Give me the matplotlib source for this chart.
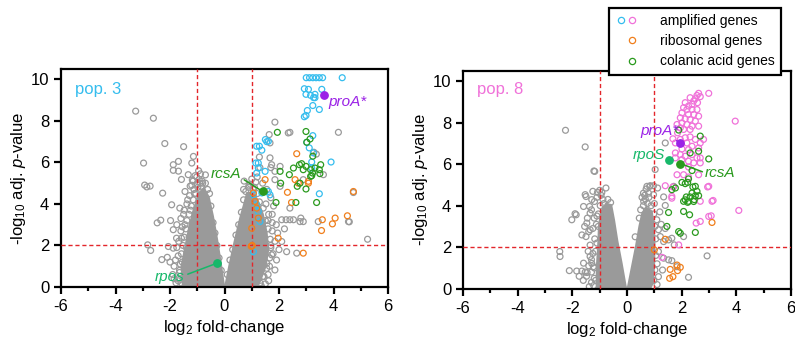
import matplotlib.pyplot as plt
from matplotlib.lines import Line2D
from matplotlib.legend_handler import HandlerTuple

plt.rcParams['font.family'] = ['Liberation Sans', 'DejaVu Sans']
plt.rcParams['mathtext.fontset'] = 'custom'
plt.rcParams['mathtext.rm'] = 'Liberation Sans'
plt.rcParams['mathtext.it'] = 'Liberation Sans:italic'
plt.rcParams['axes.unicode_minus'] = False

GRAY = '#9a9a9a'
CYAN = '#35bdee'
PINK = '#f072d9'
ORANGE = '#f07f1c'
GREEN = '#2a9a1e'
PURPLE = '#9b22e6'
SPRING = '#17b86a'
RED = '#e3262b'

x_ticks = [-6, -4, -2, 0, 2, 4, 6]
y_ticks = [0, 2, 4, 6, 8, 10]
fc_cutoff = 1
p_cutoff = 2

# pop. 3 -- outline of the solid grey core of the volcano
pop3_core_left_x = [-1.5, -1.55, -1.4, -1.25, -1.08, -0.92, -0.76, -0.6, -0.45, -0.3, -0.17, -0.06, -0.03]
pop3_core_left_y = [0.0, 1.0, 2.0, 3.0, 3.8, 4.5, 4.7, 4.3, 3.4, 2.3, 1.2, 0.2, 0.0]
pop3_core_right_x = [0.05, 0.2, 0.4, 0.6, 0.75, 0.85, 1.0, 1.18, 1.38, 1.52, 1.58, 1.48, 1.28, 1.12]
pop3_core_right_y = [0.0, 1.0, 2.2, 3.3, 4.0, 4.5, 4.5, 4.2, 3.5, 2.6, 1.8, 1.0, 0.3, 0.0]

pop3_gray_x = [-3.26, -2.61, -2.19, -1.50, -2.97, -2.93, -2.85, -2.73, -2.27, -2.47, -2.34, -2.82, -2.71,
               -2.30, -2.10, -1.98, -1.88, -1.88, -1.69, -1.88, -1.69, -1.58, -1.33, -1.14, -1.20, -1.26,
               -1.08, -0.93, -2.06, -1.88, -1.58, -1.76, -1.64, -1.94, -1.45, -1.35, -1.50, -1.75, -1.60,
               -2.00, -1.85, -1.70, -1.55, -1.90, -1.70, -1.60, -1.45, -1.25, -1.10, -0.95, -0.80, -1.30,
               -1.40, -1.20, -0.70, -1.65, -1.55, -1.15, -1.0, -0.85,
               -1.70, -1.65, -1.62, -1.58, -1.52, -1.48, -1.42, -1.38, -1.30, -1.22, -1.15, -1.05, -0.98,
               -0.90, -0.82, -0.70, -0.62, -0.55, -1.75, -1.68, -1.60, -1.48, -1.38, -1.28, -1.12, -1.80,
               -1.78, -1.85, -1.55, -1.02, -0.88, -1.18, -0.50, -0.42, -0.35, -0.28, -0.20, -0.12,
               1.85, 1.64, 2.34, 2.40, 4.18, 1.67, 1.28, 1.67, 3.37, 3.28, 1.73, 2.04, 1.85, 1.85, 2.04,
               1.30, 1.70, 3.63, 2.89, 2.40, 2.10, 2.26, 2.40, 2.53, 2.77, 2.89, 3.44, 2.80, 4.55, 4.58,
               4.73, 5.25, 2.28, 2.65, 1.85, 2.10, 1.73, 1.91, 1.55, 1.20, 1.40, 1.55, 1.70, 1.80, 1.75,
               1.90, 1.75, 1.85, 1.70, 1.65, 1.40, 1.60, 2.00, 1.95, 2.20, 1.60, 0.90, 0.70, 1.00, 1.10,
               1.62, 1.50, 1.35, 1.20,
               0.10, 0.20, 0.30, 0.42, 0.52, 0.62, 0.70, 0.78, 0.88, 0.95, 1.05, 1.20, 1.28, 1.42, 1.50,
               1.60, 1.68, 1.70, 1.66, 1.55, 1.45, 1.30, 1.75, 1.62, 1.52, 1.78, 1.35, 0.72, 1.15]
pop3_gray_y = [8.47, 8.13, 6.91, 6.76, 5.97, 4.91, 4.82, 4.86, 4.52, 3.09, 3.22, 2.03, 1.76,
               1.32, 1.43, 3.20, 2.76, 5.89, 6.05, 5.62, 5.58, 5.18, 5.41, 6.29, 5.97, 4.86,
               5.36, 5.18, 1.95, 1.87, 2.35, 2.35, 3.80, 3.96, 4.60, 4.20, 3.50, 3.00, 2.70,
               1.20, 1.00, 1.50, 1.20, 0.60, 0.40, 0.20, 3.00, 3.70, 4.50, 5.60, 5.00, 2.40,
               1.90, 4.90, 5.40, 0.80, 2.90, 5.10, 4.95, 4.85,
               0.30, 0.70, 1.10, 1.60, 2.00, 2.40, 2.80, 3.20, 3.50, 3.90, 4.20, 4.50, 4.80,
               5.00, 5.10, 5.00, 4.70, 4.50, 1.90, 2.20, 3.30, 3.70, 4.00, 4.40, 4.70, 1.30,
               0.20, 0.40, 0.10, 5.30, 5.45, 5.15, 3.90, 3.10, 2.60, 2.00, 1.40, 0.80,
               7.94, 7.34, 7.42, 7.45, 7.45, 6.94, 6.26, 6.22, 6.40, 6.49, 5.89, 5.81, 5.57, 5.17, 4.85,
               5.75, 5.75, 5.41, 5.17, 3.80, 3.24, 3.24, 3.24, 3.24, 3.15, 3.15, 3.15, 3.32, 3.15, 3.14,
               4.55, 2.30, 1.70, 1.63, 0.82, 2.19, 1.55, 1.30, 1.14, 5.30, 5.00, 4.70, 4.30, 3.90, 3.50,
               3.00, 2.70, 2.20, 2.00, 1.00, 0.50, 0.60, 1.80, 2.60, 2.80, 3.20, 4.90, 4.70, 5.20, 4.80,
               0.30, 0.15, 0.05, 0.90,
               0.60, 1.30, 1.80, 2.50, 3.00, 3.60, 4.20, 4.60, 4.80, 4.95, 4.70, 4.50, 4.10, 3.80, 3.20,
               2.80, 2.30, 1.90, 1.40, 0.90, 0.50, 0.20, 3.10, 3.50, 4.00, 1.60, 0.80, 5.10, 5.05]

pop3_amp_x = [3.00, 3.12, 3.24, 3.36, 3.48, 3.60, 4.32, 2.93, 3.08, 3.57, 2.99, 3.16, 3.32, 3.32, 3.27,
              3.24, 3.48, 3.04, 2.99, 2.93, 3.24, 1.50, 1.55, 1.28, 1.37, 1.18, 1.61, 3.02, 3.11, 3.26,
              1.24, 1.24, 1.18, 1.49, 1.61, 1.67, 1.37, 1.06, 1.18, 1.24, 1.30, 1.06, 3.20, 3.20, 3.91,
              3.48, 1.15]
pop3_amp_y = [10.08, 10.08, 10.08, 10.08, 10.08, 10.08, 10.08, 9.55, 9.52, 9.52, 9.28, 9.23, 9.28, 9.12, 9.12,
              8.74, 8.55, 8.50, 8.26, 8.20, 7.29, 7.10, 7.00, 6.78, 6.59, 6.78, 7.02, 6.97, 6.70, 6.46,
              5.97, 5.73, 5.49, 5.57, 4.60, 4.44, 4.53, 4.44, 3.96, 3.64, 3.15, 1.70, 6.02, 5.73, 6.02,
              4.49, 5.97]

pop3_ribo_x = [2.65, 1.49, 2.31, 2.46, 2.59, 2.71, 3.08, 1.06, 1.12, 1.18, 1.24, 1.00, 1.00, 1.02, 0.98,
               1.97, 2.89, 3.59, 4.06, 3.56, 3.96, 4.51, 4.73, 3.08]
pop3_ribo_y = [6.42, 5.17, 4.56, 4.07, 5.17, 5.00, 5.00, 4.53, 4.12, 3.80, 3.32, 2.83, 1.98, 2.00, 1.96,
               2.35, 1.63, 3.24, 3.32, 2.72, 3.04, 3.43, 4.60, 5.09]

pop3_colanic_x = [1.94, 2.99, 3.14, 3.24, 2.04, 2.38, 2.53, 2.75, 2.83, 2.99, 3.16, 3.32, 3.48, 3.53,
                  3.23, 3.16, 2.77, 2.67, 2.99, 1.89, 2.62, 3.38, 2.06, 3.02, 2.89, 3.20, 3.50]
pop3_colanic_y = [7.45, 7.49, 7.13, 6.30, 5.57, 5.41, 5.73, 5.89, 5.94, 5.81, 5.65, 5.73, 5.65, 5.89,
                  5.49, 5.33, 5.00, 4.85, 4.72, 4.07, 4.07, 4.07, 5.00, 6.97, 5.65, 5.36, 5.46]

# pop. 8
pop8_core_left_x = [-1.08, -1.08, -1.03, -1.0, -0.92, -0.76, -0.6, -0.5, -0.38, -0.22, -0.08, -0.05]
pop8_core_left_y = [0.0, 1.0, 2.0, 3.0, 3.7, 4.05, 4.0, 3.3, 2.3, 1.2, 0.15, 0.0]
pop8_core_right_x = [0.05, 0.2, 0.35, 0.48, 0.58, 0.72, 0.88, 0.96, 0.98, 0.96, 0.92, 0.82]
pop8_core_right_y = [0.0, 1.0, 2.0, 3.0, 3.6, 3.85, 3.7, 3.0, 2.0, 1.0, 0.3, 0.0]

pop8_gray_x = [-2.25, -1.53, -1.21, -1.18, -1.53, -1.50, -1.25, -1.29, -1.19, -0.77, -1.00, -0.92, -1.08,
               -1.59, -1.37, -1.90, -1.86, -2.02, -1.35, -1.20, -1.47, -1.65, -1.50, -1.35, -1.40, -1.25,
               -2.46, -2.45, -2.11, -1.84, -1.65, -1.53, -1.46, -1.59, -1.30, -1.35, -1.29, -1.23, -1.10,
               -1.15, -1.20, -1.30, -1.05, -1.10, -0.85, -1.75,
               -1.15, -1.20, -1.25, -1.18, -1.12, -1.05, -0.98, -0.88, -0.70, -0.60, -1.35, -1.42, -1.30,
               -1.40, -1.48, -1.60, -1.10, -0.95, -1.45, -1.55, -1.30, -1.22, -1.38,
               0.73, 0.83, 0.97, 1.12, 0.67, 0.61, 0.97, 1.34, 1.40, 1.03, 1.09, 1.15, 1.22, 1.34, 1.52,
               1.64, 1.73, 1.15, 1.34, 1.52, 1.83, 2.25, 2.93, 1.15, 1.64, 2.07, 1.20, 1.25, 1.40, 1.10,
               1.30, 0.60, 0.80, 1.00, 1.40, 0.85, 0.79, 1.71,
               0.50, 0.60, 0.75, 0.88, 0.98, 1.02, 1.05, 1.05, 1.02, 0.98, 0.65, 0.70, 0.55, 0.45, 0.30, 1.10]
pop8_gray_y = [7.63, 6.83, 5.67, 5.65, 4.53, 4.44, 4.69, 4.29, 4.20, 4.85, 4.74, 4.64, 4.64,
               3.96, 3.96, 3.61, 3.56, 3.32, 3.64, 3.40, 3.16, 2.59, 2.51, 2.84, 2.75, 2.90,
               1.79, 1.55, 0.87, 0.85, 0.85, 0.80, 0.78, 1.23, 1.40, 1.55, 1.22, 1.06, 2.20,
               1.80, 0.50, 0.30, 3.00, 3.50, 4.10, 0.60,
               0.40, 1.00, 1.70, 2.40, 3.10, 3.60, 4.00, 4.30, 4.30, 4.15, 2.10, 1.80, 0.80,
               1.10, 0.60, 0.40, 4.40, 4.50, 3.40, 3.00, 3.80, 0.15, 0.10,
               4.93, 4.93, 4.96, 4.85, 4.32, 4.21, 4.53, 4.42, 4.01, 5.74, 3.32, 2.84, 2.51, 2.27, 2.35,
               2.43, 2.11, 1.79, 1.47, 1.39, 1.06, 0.55, 1.58, 0.58, 1.35, 2.51, 3.70, 3.10, 2.90, 1.20,
               0.90, 4.60, 4.40, 4.10, 7.02, 4.96, 4.60, 4.93,
               3.80, 4.00, 4.10, 4.00, 3.60, 3.00, 2.40, 1.60, 0.90, 0.40, 4.50, 4.80, 4.40, 3.40, 2.50, 0.20]

pop8_amp_x = [2.62, 2.56, 2.68, 2.99, 2.50, 2.31, 2.44, 2.58, 2.38, 2.25, 2.13, 2.07, 2.19, 2.38, 2.56,
              2.01, 2.25, 2.44, 2.62, 1.95, 2.13, 2.31, 2.50, 2.01, 1.83, 2.19, 2.38, 2.62, 1.95, 2.07,
              2.31, 1.85, 1.68, 1.77, 1.95, 2.13, 2.31, 2.50, 2.68, 2.80, 2.19, 2.38, 2.62, 2.01, 2.25,
              1.77, 1.95, 2.13, 2.38, 2.56, 2.68, 1.77, 2.01, 2.25, 2.44, 2.68, 2.25, 1.83, 2.07, 2.25,
              2.62, 2.99, 1.68, 1.64, 2.68, 3.11, 3.96, 1.40, 1.64, 2.95, 3.15, 2.99, 3.08, 2.68, 2.53,
              4.09, 1.89, 1.28]
pop8_amp_y = [9.41, 9.31, 9.25, 9.41, 9.15, 9.20, 9.04, 8.96, 8.88, 8.80, 8.96, 8.72, 8.63, 8.63, 8.63,
              8.47, 8.39, 8.39, 8.31, 8.23, 8.18, 8.15, 8.07, 7.99, 7.91, 7.91, 7.83, 7.83, 7.75, 7.67,
              7.67, 7.51, 7.22, 7.02, 7.19, 7.27, 7.31, 7.19, 7.02, 7.19, 7.02, 6.86, 6.78, 6.73, 6.70,
              6.54, 6.46, 6.38, 6.46, 6.30, 6.30, 6.30, 6.22, 6.14, 6.06, 6.06, 5.86, 5.49, 5.49, 5.38,
              5.49, 4.93, 4.90, 4.45, 4.21, 4.21, 8.07, 4.96, 4.36, 4.90, 4.25, 3.48, 3.51, 3.24, 3.16,
              3.77, 2.11, 1.51]

pop8_ribo_x = [1.40, 3.11, 1.00, 1.83, 1.95, 1.85, 1.58, 1.56, 1.68]
pop8_ribo_y = [2.38, 3.19, 1.87, 1.14, 1.03, 0.87, 0.93, 0.50, 0.58]

pop8_colanic_x = [1.89, 2.68, 2.62, 2.31, 2.99, 2.38, 2.25, 2.13, 2.01, 2.50, 2.56, 2.38, 2.31, 2.17,
                  2.25, 2.46, 2.07, 1.77, 1.64, 2.22, 2.41, 2.50, 2.13, 2.22, 2.62, 2.44, 1.52, 2.07,
                  2.29, 1.46, 1.89, 1.95, 2.50]
pop8_colanic_y = [7.64, 7.35, 6.62, 6.54, 6.25, 5.69, 5.29, 5.06, 5.12, 4.93, 4.69, 4.61, 4.42, 4.42,
                  4.21, 4.29, 4.21, 4.85, 4.77, 5.12, 4.90, 4.48, 4.28, 4.16, 4.48, 4.20, 3.67, 3.72,
                  3.56, 3.00, 2.75, 2.67, 2.71]

pop3_genes = ['proA*', 'rcsA', 'rpos']
pop3_gene_x = [3.66, 1.40, -0.29]
pop3_gene_y = [9.23, 4.60, 1.14]
pop8_genes = ['proA*', 'rpoS', 'rcsA']
pop8_gene_x = [1.95, 1.52, 1.95]
pop8_gene_y = [7.02, 6.19, 6.03]


def style_axes(ax):
    ax.set_xlim(-6, 6)
    ax.set_ylim(0, 10.5)
    ax.set_xticks(x_ticks)
    ax.set_xticks([-5, -3, -1, 1, 3, 5], minor=True)
    ax.set_yticks(y_ticks)
    for side in ['left', 'bottom', 'top', 'right']:
        ax.spines[side].set_linewidth(1.6)
    ax.tick_params(which='major', direction='out', length=5, width=1.6, labelsize=12, top=False, right=False)
    ax.tick_params(which='minor', direction='out', length=3, width=1.6, top=False, right=False)
    ax.set_xlabel(r'log$_2$ fold-change', fontsize=12, labelpad=3)
    ax.set_ylabel(r'-log$_{10}$ adj. $\it{p}$-value', fontsize=12, labelpad=2)
    ax.axvline(-fc_cutoff, color=RED, lw=1.0, dashes=(3, 2), zorder=3)
    ax.axvline(fc_cutoff, color=RED, lw=1.0, dashes=(3, 2), zorder=3)
    ax.axhline(p_cutoff, color=RED, lw=1.0, dashes=(3, 2), zorder=3)


def draw_points(ax, core, gray, amp, ribo, colanic, amp_color):
    for cx, cy in core:
        ax.fill(cx, cy, color=GRAY, lw=2.5, zorder=1)
    ax.scatter(gray[0], gray[1], s=18, facecolors='none', edgecolors=GRAY, linewidths=0.9, zorder=2)
    ax.scatter(amp[0], amp[1], s=18, facecolors='none', edgecolors=amp_color, linewidths=0.9, zorder=4)
    ax.scatter(ribo[0], ribo[1], s=18, facecolors='none', edgecolors=ORANGE, linewidths=0.9, zorder=5)
    ax.scatter(colanic[0], colanic[1], s=18, facecolors='none', edgecolors=GREEN, linewidths=0.9, zorder=6)


fig = plt.figure(figsize=(7.95, 3.47), dpi=100)
ax1 = fig.add_axes([61 / 795, 1 - 287 / 347, 327 / 795, 218 / 347])
ax2 = fig.add_axes([463 / 795, 1 - 288.7 / 347, 328 / 795, 218 / 347])

draw_points(ax1,
            [(pop3_core_left_x, pop3_core_left_y), (pop3_core_right_x, pop3_core_right_y)],
            (pop3_gray_x, pop3_gray_y), (pop3_amp_x, pop3_amp_y),
            (pop3_ribo_x, pop3_ribo_y), (pop3_colanic_x, pop3_colanic_y), CYAN)
draw_points(ax2,
            [(pop8_core_left_x, pop8_core_left_y), (pop8_core_right_x, pop8_core_right_y)],
            (pop8_gray_x, pop8_gray_y), (pop8_amp_x, pop8_amp_y),
            (pop8_ribo_x, pop8_ribo_y), (pop8_colanic_x, pop8_colanic_y), PINK)

for ax in [ax1, ax2]:
    style_axes(ax)

ax1.text(-5.5, 9.5, 'pop. 3', color=CYAN, fontsize=12, ha='left', va='center')
ax2.text(-5.5, 9.6, 'pop. 8', color=PINK, fontsize=12, ha='left', va='center')

# pop. 3 gene labels
gene_colors3 = [PURPLE, GREEN, SPRING]
for name, gx, gy, c in zip(pop3_genes, pop3_gene_x, pop3_gene_y, gene_colors3):
    ax1.scatter([gx], [gy], s=28, color=c, zorder=7)
ax1.annotate(pop3_genes[0], (pop3_gene_x[0], pop3_gene_y[0]), xytext=(3.8, 8.9),
             color=PURPLE, fontsize=11, style='italic', ha='left', va='center', zorder=8)
ax1.annotate(pop3_genes[1], (pop3_gene_x[1], pop3_gene_y[1]), xytext=(0.62, 5.45),
             color=GREEN, fontsize=11, style='italic', ha='right', va='center', zorder=8,
             arrowprops=dict(arrowstyle='-', color=GREEN, lw=1.1, relpos=(1.0, 0.2), shrinkA=0, shrinkB=0))
ax1.annotate(pop3_genes[2], (pop3_gene_x[2], pop3_gene_y[2]), xytext=(-1.45, 0.5),
             color=SPRING, fontsize=11, style='italic', ha='right', va='center', zorder=8,
             arrowprops=dict(arrowstyle='-', color=SPRING, lw=1.1, relpos=(1.0, 0.6), shrinkA=0, shrinkB=0))

# pop. 8 gene labels
gene_colors8 = [PURPLE, SPRING, GREEN]
for name, gx, gy, c in zip(pop8_genes, pop8_gene_x, pop8_gene_y, gene_colors8):
    ax2.scatter([gx], [gy], s=28, color=c, zorder=7)
ax2.annotate(pop8_genes[0], (pop8_gene_x[0], pop8_gene_y[0]), xytext=(1.9, 7.6),
             color=PURPLE, fontsize=11, style='italic', ha='right', va='center', zorder=8,
             arrowprops=dict(arrowstyle='-', color=PURPLE, lw=1.1, relpos=(0.75, 0.1), shrinkA=0, shrinkB=0))
ax2.annotate(pop8_genes[1], (pop8_gene_x[1], pop8_gene_y[1]), xytext=(1.4, 6.43),
             color=SPRING, fontsize=11, style='italic', ha='right', va='center', zorder=8)
ax2.annotate(pop8_genes[2], (pop8_gene_x[2], pop8_gene_y[2]), xytext=(2.86, 5.58),
             color=GREEN, fontsize=11, style='italic', ha='left', va='center', zorder=8,
             arrowprops=dict(arrowstyle='-', color=GREEN, lw=1.1, relpos=(0.0, 0.5), shrinkA=0, shrinkB=0))

mk = dict(marker='o', linestyle='none', markersize=4.5, markerfacecolor='none', markeredgewidth=0.9)
blank = Line2D([], [], linestyle='none')
amp_handle = (Line2D([], [], markeredgecolor=CYAN, **mk), Line2D([], [], markeredgecolor=PINK, **mk))
ribo_handle = (blank, Line2D([], [], markeredgecolor=ORANGE, **mk))
colanic_handle = (blank, Line2D([], [], markeredgecolor=GREEN, **mk))
leg = fig.legend([amp_handle, ribo_handle, colanic_handle],
                 ['amplified genes', 'ribosomal genes', 'colanic acid genes'],
                 handler_map={tuple: HandlerTuple(ndivide=None, pad=0.0)},
                 loc='upper right', bbox_to_anchor=(788 / 795, 0.998), fontsize=10,
                 frameon=True, fancybox=False, edgecolor='black', framealpha=1,
                 handlelength=1.6, handletextpad=1.6, borderpad=0.45, labelspacing=0.45)
leg.get_frame().set_linewidth(1.6)

fig.savefig('out.png', dpi=100)
